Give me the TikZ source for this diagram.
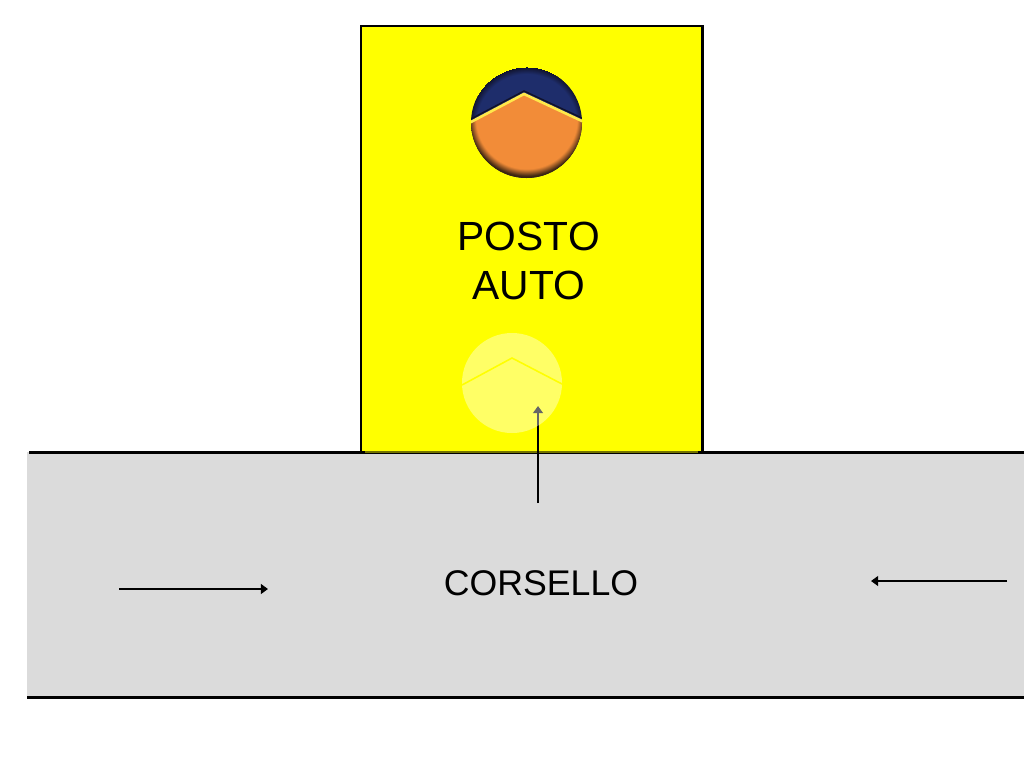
\documentclass[tikz,border=0pt]{standalone}
\usepackage{fontspec}
\setmainfont[Kerning=Off]{Liberation Sans}
\usetikzlibrary{arrows.meta}
\definecolor{bayyellow}{HTML}{FFFF00}
\definecolor{roadgray}{HTML}{DBDBDB}
\definecolor{logonavy}{HTML}{1E2D6B}
\definecolor{logoorange}{HTML}{F28C38}
\definecolor{rimbrown}{HTML}{3A2410}
\definecolor{rimnavy}{HTML}{10122A}
\definecolor{chevronyellow}{HTML}{FFE84A}
\pgfdeclareradialshading{orangerim}{\pgfpoint{0bp}{0bp}}{color(0bp)=(logoorange); color(21bp)=(logoorange); color(24bp)=(rimbrown); color(25bp)=(rimbrown)}
\pgfdeclareradialshading{navyrim}{\pgfpoint{0bp}{0bp}}{color(0bp)=(logonavy); color(22bp)=(logonavy); color(25bp)=(rimnavy)}
\begin{document}
\begin{tikzpicture}[x=0.02cm, y=-0.02cm,
    edge/.style={line width=1.7pt},
    flow/.style={line width=1.2pt, -{Triangle[length=4pt,width=5.5pt]}}]
    \useasboundingbox (0,0) rectangle (1024,768);
    % Road
    \fill[roadgray] (27,452) rectangle (1024,697);
    \draw[edge] (29,452) -- (1024,452);
    \draw[edge] (27,697) -- (1024,697);
    % Parking bay
    \draw[edge, fill=bayyellow] (361,451) -- (361,26) -- (702,26) -- (702,451);
    \draw[line width=1pt, black!55!bayyellow] (365,452) -- (698,452);
    % Logo
    \begin{scope}
        \clip (526.5,122.5) circle (55.5);
        \shade[shading=navyrim] (526.5,124) circle (57);
        \begin{scope}
            \clip (471,121) -- (524,93) -- (582,120) -- (582,190) -- (471,190) -- cycle;
            \shade[shading=orangerim] (526.5,118) circle (60.5);
        \end{scope}
        \draw[line width=0.8pt, rimnavy] (469,120) -- (524,91) -- (584,119);
        \draw[line width=1.5pt, chevronyellow] (470,122.5) -- (524,94) -- (583,121.5);
    \end{scope}
    % Labels
    \node[font=\fontsize{23.2}{28.4}\selectfont, align=center] (posto) at (529,261) {POSTO\\AUTO};
    \node[font=\fontsize{20.3}{24}\selectfont] (corsello) at (541,583) {CORSELLO};
    % Arrows
    \coordinate (entryS) at (538,503);
    \coordinate (entryN) at (538,406);
    \coordinate (eastW) at (119,589);
    \coordinate (eastE) at (268,589);
    \coordinate (westE) at (1007,581);
    \coordinate (westW) at (871,581);
    \draw[flow] (entryS) -- (entryN);
    \draw[flow] (eastW) -- (eastE);
    \draw[flow] (westE) -- (westW);
    % Faded logo
    \fill[white, opacity=0.4] (512,383) circle (50);
    \draw[line width=0.9pt, bayyellow] (462,385) -- (512,358) -- (562,384);
\end{tikzpicture}
\end{document}
